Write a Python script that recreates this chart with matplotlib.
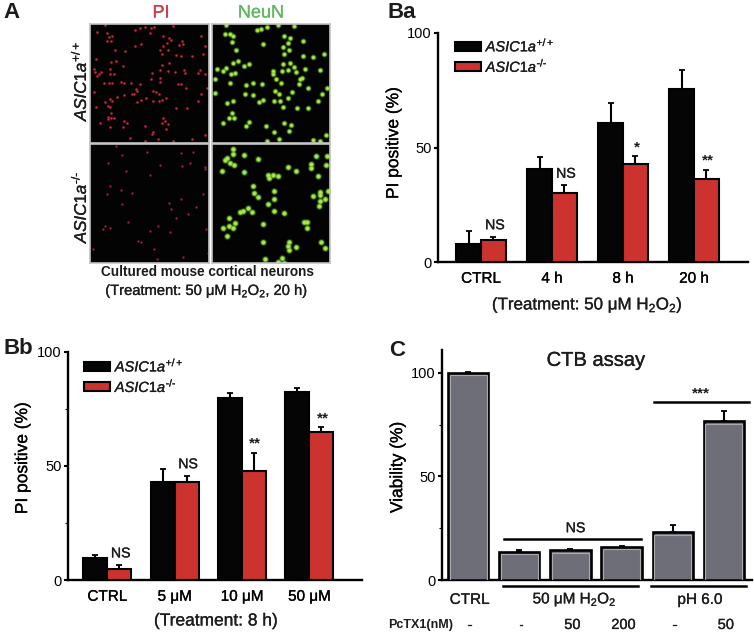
import numpy as np
import matplotlib
matplotlib.use('Agg')
import matplotlib.pyplot as plt
import matplotlib.patheffects as pe
from matplotlib.text import Text

plt.rcParams['font.family'] = ['Liberation Sans', 'DejaVu Sans']
plt.rcParams['mathtext.fontset'] = 'custom'
plt.rcParams['mathtext.rm'] = 'Liberation Sans'
plt.rcParams['mathtext.it'] = 'Liberation Sans:italic'
plt.rcParams['mathtext.bf'] = 'Liberation Sans:bold'
plt.rcParams['mathtext.default'] = 'regular'
plt.rcParams['text.color'] = '#1c1c1c'

# Panel Ba
ba_labels = ['CTRL', '4 h', '8 h', '20 h']
ba_wt = [8.0, 40.8, 60.8, 75.7]
ba_wt_top = [13.5, 45.9, 69.4, 84.0]
ba_ko = [9.8, 30.3, 43.0, 36.1]
ba_ko_top = [11.0, 33.5, 46.1, 40.3]
ba_marks = ['NS', 'NS', '*', '**']

# Panel Bb
bb_labels = ['CTRL', '5 \u03bcM', '10 \u03bcM', '50 \u03bcM']
bb_wt = [9.5, 43.0, 79.7, 82.6]
bb_wt_top = [10.8, 48.6, 82.0, 84.0]
bb_ko = [5.0, 43.0, 47.7, 65.0]
bb_ko_top = [6.6, 45.7, 55.9, 67.0]
bb_marks = ['NS', 'NS', '**', '**']

# Panel C
c_values = [100.0, 13.7, 14.3, 16.0, 23.0, 76.7]
c_tops = [100.6, 14.3, 15.0, 16.6, 26.5, 81.5]
c_pctx = ['-', '-', '50', '200', '-', '50']

# Panel A, cell positions
pi_wt = [(50,10),(142,25),(155,17),(172,15),(190,17),(198,14),(255,13),(27,30),(58,33),(62,45),(73,43),(57,56),(70,58),
         (185,33),(224,43),(243,48),(248,53),(283,58),(285,65),(340,43),(236,63),(226,72),(160,67),(140,72),(273,70),
         (350,72),(216,83),(240,83),(80,85),(110,88),(222,97),(264,100),(280,103),(311,103),(345,97),(25,110),(85,118),
         (70,120),(242,123),(222,130),(105,132),(65,140),(18,142),(22,150),(40,150),(32,157),(28,162),(78,155),(65,155),
         (192,152),(215,145),(240,147),(262,150),(287,145),(290,152),(337,143),(330,152),(350,157),(108,182),(48,183),
         (63,183),(72,183),(100,180),(130,183),(155,185),(215,180),(270,185),(280,185),(215,168),(190,170),(295,198),
         (356,197),(145,200),(148,205),(195,205),(205,210),(212,215),(18,210),(108,217),(132,216),(138,216),(340,215),
         (88,224),(175,227),(65,230),(72,235),(52,240),(60,250),(65,255),(148,238),(160,233),(195,235),(212,235),(222,232),
         (235,228),(330,237),(25,254),(265,258),(297,258),(68,272),(60,283),(60,290),(70,288),(77,288),(35,303),(108,295),
         (118,301),(225,287),(230,295),(222,303),(240,305),(67,314),(105,313),(170,310),(235,320),(195,328),(192,335),
         (127,347),(210,350),(172,355),(255,355),(312,350),(350,338)]
neun_wt = [(50,10),(173,15),(205,8),(142,25),(155,20),(255,13),(48,37),(62,35),(72,43),(68,60),(225,43),(242,47),(283,58),
           (160,67),(237,63),(220,75),(240,83),(80,85),(224,97),(345,97),(281,103),(312,105),(72,122),(87,117),(222,127),
           (242,123),(118,127),(105,133),(22,142),(50,137),(42,148),(65,157),(78,152),(192,148),(190,155),(218,148),
           (236,145),(256,135),(287,142),(332,143),(262,150),(273,170),(200,170),(280,168),(16,170),(62,182),(110,188),
           (130,184),(157,185),(270,185),(216,182),(298,198),(355,197),(197,207),(208,214),(18,212),(108,216),(132,217),
           (250,210),(340,215),(328,237),(237,228),(150,238),(162,234),(195,235),(213,235),(70,237),(53,241),(222,253),
           (265,258),(298,258),(67,273),(75,287),(58,288),(40,302),(110,310),(118,300),(170,310),(225,303),(247,308),
           (195,328),(240,325),(210,350),(173,357),(312,352),(333,355),(350,338)]
pi_ko = [(85,12),(102,38),(178,30),(60,62),(215,70),(305,63),(350,75),(352,80),(280,33),(315,30),(113,88),(186,100),(283,72),
         (100,143),(132,153),(345,155),(58,157),(67,133),(243,183),(278,171),(250,200),(103,185),(300,215),(265,228),
         (325,195),(120,238),(52,250),(210,250),(245,270),(150,296),(158,300),(16,320),(198,320),(207,350),(285,343),
         (360,333),(45,260),(65,257),(185,265),(355,260)]
neun_ko = [(72,20),(70,37),(52,48),(48,55),(62,62),(75,70),(38,88),(105,90),(105,38),(145,52),(235,75),(262,88),(322,43),
           (355,42),(305,65),(305,78),(352,70),(175,100),(190,100),(206,102),(178,107),(328,102),(130,132),(193,148),
           (133,152),(147,165),(195,170),(175,184),(332,150),(332,160),(312,162),(347,170),(358,148),(332,178),(330,190),
           (195,205),(115,198),(128,208),(100,207),(92,208),(223,213),(60,227),(285,238),(295,240),(78,243),(60,250),
           (70,256),(40,257),(160,245),(293,258),(52,280),(240,298),(235,310),(240,323),(262,313),(337,300),(348,318),
           (160,300),(167,349),(218,346),(205,360),(225,363)]

W, H = 754, 633
BLACK = '#050505'
RED = '#cc332f'
GREY = '#6e6e78'
WT = '$\\mathit{ASIC1a}^{+/+}$'
KO = '$\\mathit{ASIC1a}^{\u2010/\u2010}$'

fig = plt.figure(figsize=(W / 100, H / 100), dpi=100)


def px_axes(left, top, right, bottom):
    return fig.add_axes([left / W, 1 - bottom / H, (right - left) / W, (bottom - top) / H])


def px_text(x, y, s, **kw):
    kw.setdefault('ha', 'center')
    kw.setdefault('va', 'center')
    fig.text(x / W, 1 - y / H, s, **kw)


def cell_panel(box, cells, color, core, small, big, alpha):
    ax = px_axes(*box)
    ax.set_facecolor('#020302')
    ax.set_xlim(6, 363)
    ax.set_ylim(362, 6)
    ax.set_xticks([])
    ax.set_yticks([])
    for s in ax.spines.values():
        s.set_color('#c4c4c4')
        s.set_linewidth(1.2)
    xs = [c[0] for c in cells]
    ys = [c[1] for c in cells]
    ax.scatter(xs, ys, s=big, color=color, alpha=alpha * 0.3, linewidths=0)
    ax.scatter(xs, ys, s=small, color=color, alpha=alpha, linewidths=0)
    ax.scatter(xs, ys, s=small * 0.4, color=core, alpha=alpha, linewidths=0)


def style_axis(ax, ylim, minor=None):
    ax.set_ylim(*ylim)
    ax.spines['top'].set_visible(False)
    ax.spines['right'].set_visible(False)
    ax.spines['left'].set_linewidth(1.7)
    ax.spines['bottom'].set_linewidth(1.7)
    ax.patch.set_alpha(0)
    ax.set_yticks([0, 50, 100])
    if minor:
        ax.set_yticks(minor, minor=True)
        ax.tick_params(axis='y', which='minor', length=2, width=0.8)
    ax.tick_params(axis='y', which='major', length=3, width=1.5, labelsize=10.5, pad=1.5)


def paired_panel(box, xlim, labels, wt, wt_top, ko, ko_top, marks, width, legend_at, minor=None):
    ax = px_axes(*box)
    x = np.arange(len(labels))
    b1 = ax.bar(x - width / 2, wt, width, color=BLACK, edgecolor='black', linewidth=1.5, label=WT, zorder=3)
    b2 = ax.bar(x + width / 2, ko, width, color=RED, edgecolor='black', linewidth=1.5, label=KO, zorder=3)
    ax.errorbar(x - width / 2, wt, yerr=[np.zeros(len(wt)), np.array(wt_top) - np.array(wt)], fmt='none',
                ecolor='black', elinewidth=1.5, capsize=2.5, capthick=1.3, zorder=2)
    ax.errorbar(x + width / 2, ko, yerr=[np.zeros(len(ko)), np.array(ko_top) - np.array(ko)], fmt='none',
                ecolor='black', elinewidth=1.5, capsize=2.5, capthick=1.3, zorder=2)
    for xi, top, m in zip(x, ko_top, marks):
        if m == 'NS':
            ax.text(xi + width / 2 + 0.02, top + 2, m, ha='center', va='bottom', fontsize=10.2)
        else:
            ax.text(xi + width / 2 + 0.02, top + 4, m, ha='center', va='center', fontsize=11, fontweight='bold')
    ax.set_xlim(*xlim)
    ax.set_xticks(x)
    ax.set_xticklabels(labels, fontsize=11)
    ax.tick_params(axis='x', length=0, pad=7)
    style_axis(ax, (0, 100), minor)
    ax.set_ylabel('PI positive (%)', fontsize=12.5)
    ax.legend(handles=[b1, b2], loc='upper left', bbox_to_anchor=legend_at, frameon=False, fontsize=10.5,
              handlelength=1.75, handleheight=0.6, labelspacing=0.18, handletextpad=0.35,
              borderpad=0, borderaxespad=0)
    return ax


# Panel A
cell_panel((90, 24, 209, 143), pi_wt, '#c4263a', '#d8324a', 2.8, 7, 0.8)
cell_panel((211.5, 24, 330, 143), neun_wt, '#70c238', '#c0e84c', 10, 20, 0.95)
cell_panel((90, 144, 209, 263), pi_ko, '#a82036', '#d02c44', 2.2, 6, 0.7)
cell_panel((211.5, 144, 330, 263), neun_ko, '#70c238', '#bce64c', 13, 26, 0.95)
px_text(161, 13, 'PI', color='#c9404a', fontsize=13)
px_text(261, 13, 'NeuN', color='#62b862', fontsize=13)
px_text(79, 81, WT, rotation=90, fontsize=12.2)
px_text(79, 207, KO, rotation=90, fontsize=12.2)
px_text(207, 272, 'Cultured mouse cortical neurons', fontsize=9.8, fontweight='bold')
px_text(207, 291, '(Treatment: 50 \u03bcM H$_2$O$_2$, 20 h)', fontsize=10.6)

# Panel Ba
ax_ba = paired_panel((438, 33, 748, 262), (-0.606, 3.76), ba_labels, ba_wt, ba_wt_top, ba_ko, ba_ko_top, ba_marks,
                     0.35, (0.055, 0.985))
ax_ba.yaxis.set_label_coords(-0.119, 0.52)
px_text(587, 305, '(Treatment: 50 \u03bcM H$_2$O$_2$)', fontsize=12.2)

# Panel Bb
ax_bb = paired_panel((68, 352, 362, 580), (-0.584, 3.78), bb_labels, bb_wt, bb_wt_top, bb_ko, bb_ko_top, bb_marks,
                     0.356, (0.055, 0.98), minor=[25, 75])
ax_bb.yaxis.set_label_coords(-0.129, 0.535)
px_text(216, 621, '(Treatment: 8 h)', fontsize=12.5)

# Panel C
ax_c = px_axes(442, 350, 752, 580)
xc = np.arange(len(c_values))
ax_c.bar(xc, c_values, 0.79, color=GREY, edgecolor='black', linewidth=1.9, zorder=3)
ax_c.bar(xc, np.array(c_values) - 1.2, 0.72, color='none', edgecolor='#a9a9ae', linewidth=0.8, zorder=4)
ax_c.errorbar(xc, c_values, yerr=[np.zeros(len(c_values)), np.array(c_tops) - np.array(c_values)], fmt='none',
              ecolor='black', elinewidth=1.5, capsize=2.5, capthick=1.3, zorder=2)
ax_c.set_xlim(-0.51, 5.55)
ax_c.set_xticks([])
style_axis(ax_c, (0, 111), minor=[25, 75])
ax_c.set_ylabel('Viability (%)', fontsize=12.5)
ax_c.yaxis.set_label_coords(-0.119, 0.49)
ax_c.text(2.5, 106, 'CTB assay', ha='center', va='center', fontsize=14.5)
ax_c.plot([0.7, 3.38], [19.8, 19.8], color='black', lw=1.8)
ax_c.text(2.1, 25, 'NS', ha='center', va='center', fontsize=10.2)
ax_c.plot([3.64, 5.5], [86, 86], color='black', lw=1.8)
ax_c.text(4.55, 90, '***', ha='center', va='center', fontsize=11, fontweight='bold')
ax_c.plot([0.68, 3.33], [-3, -3], color='black', lw=1.8, clip_on=False)
ax_c.plot([3.57, 5.43], [-3, -3], color='black', lw=1.8, clip_on=False)
ax_c.text(0.03, -9.6, 'CTRL', ha='center', va='center', fontsize=11)
ax_c.text(2.08, -9.6, '50 \u03bcM H$_2$O$_2$', ha='center', va='center', fontsize=11)
ax_c.text(4.53, -9.6, 'pH 6.0', ha='center', va='center', fontsize=11)
for xi, s in zip(xc, c_pctx):
    ax_c.text(xi + 0.04, -21.7, s, ha='center', va='center', fontsize=10.5)
px_text(421, 625, 'PcTX1(nM)', fontsize=9, fontweight='bold')

# Panel letters
px_text(11, 13, 'A', fontsize=16, fontweight='bold')
px_text(402, 12, 'Ba', fontsize=16, fontweight='bold')
px_text(18, 349, 'Bb', fontsize=16, fontweight='bold')
px_text(397, 350, 'C', fontsize=16, fontweight='bold')

# the reference is a soft scan, regular text reads heavier than the plain font
for t in fig.findobj(Text):
    if t.get_fontweight() == 'normal' and t.get_text():
        t.set_path_effects([pe.withStroke(linewidth=0.2, foreground=t.get_color())])

fig.savefig('out.png', dpi=100)
